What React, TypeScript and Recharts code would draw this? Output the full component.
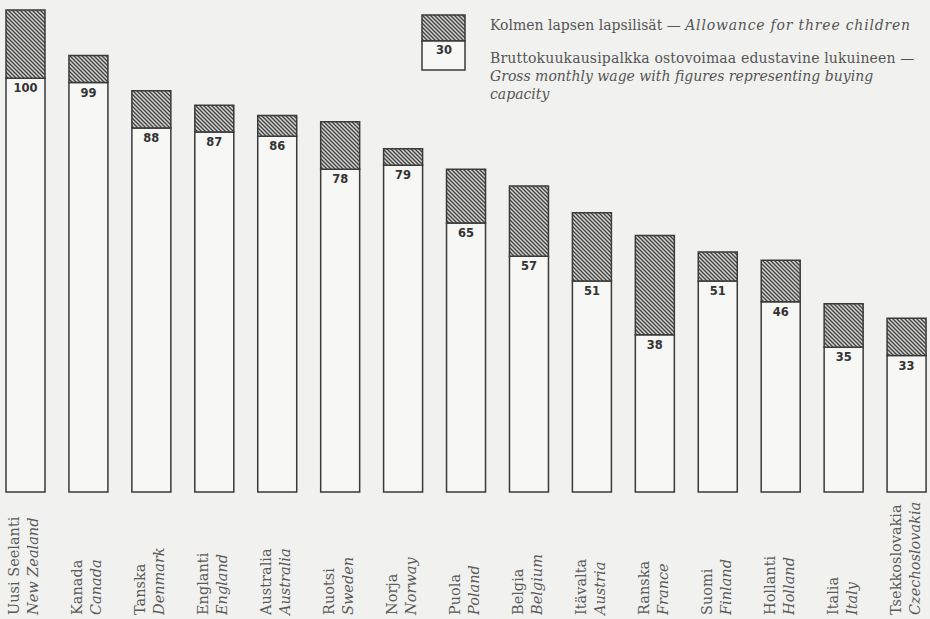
import React from "react";
import { BarChart, Bar, XAxis, YAxis, LabelList } from "recharts";

const fiNames = ["Uusi Seelanti", "Kanada", "Tanska", "Englanti", "Australia", "Ruotsi", "Norja", "Puola", "Belgia", "Itävalta", "Ranska", "Suomi", "Hollanti", "Italia", "Tsekkoslovakia"];
const enNames = ["New Zealand", "Canada", "Denmark", "England", "Australia", "Sweden", "Norway", "Poland", "Belgium", "Austria", "France", "Finland", "Holland", "Italy", "Czechoslovakia"];
const wage = [100, 99, 88, 87, 86, 78, 79, 65, 57, 51, 38, 51, 46, 35, 33];
const allowance = [16.5, 6.5, 9, 6.5, 5, 11.5, 4, 13, 17, 16.5, 24, 7, 10, 10.5, 9];
const legendSample = 30;

const data = fiNames.map((fi, i) => ({ fi, en: enNames[i], wage: wage[i], allowance: allowance[i] }));

const BG = "#f1f1ef";
const BAR = "#f7f7f6";
const INK = "#3a3a3a";
const TXT = "#555";
const SERIF = "'DejaVu Serif', 'Liberation Serif', serif";

const Tick = (props: any) => {
  const { x, payload } = props;
  const i = fiNames.indexOf(payload.value);
  return (
    <g>
      <text transform={`translate(${x - 6},615) rotate(-90)`} fontFamily={SERIF} fontSize={14.5} fill="#5a5a5a" textAnchor="start">
        {fiNames[i]}
      </text>
      <text transform={`translate(${x + 13},615) rotate(-90)`} fontFamily={SERIF} fontStyle="italic" fontSize={14.5} fill="#5a5a5a" textAnchor="start">
        {enNames[i]}
      </text>
    </g>
  );
};

const LegendBox = () => (
  <div style={{ position: "absolute", left: 421, top: 14, width: 500, height: 100, fontFamily: SERIF, color: TXT }}>
    <svg width={46} height={58} style={{ position: "absolute", left: 0, top: 0 }}>
      <defs>
        <pattern id="hatchL" patternUnits="userSpaceOnUse" width="4" height="4">
          <rect width="4" height="4" fill="#d4d4d2" />
          <path d="M0,0 L4,4 M-1,3 L1,5 M3,-1 L5,1" stroke="#404040" strokeWidth="1.35" />
        </pattern>
      </defs>
      <rect x={1} y={1} width={43} height={26} fill="url(#hatchL)" stroke={INK} strokeWidth={1.5} />
      <rect x={1} y={27} width={43} height={29} fill={BAR} stroke={INK} strokeWidth={1.5} />
      <text x={23} y={40} textAnchor="middle" fontFamily="'DejaVu Sans', sans-serif" fontWeight="bold" fontSize={11.5} fill="#333">
        {legendSample}
      </text>
    </svg>
    <div style={{ position: "absolute", left: 69, top: 3, fontSize: 14, whiteSpace: "nowrap", lineHeight: "16px" }}>
      Kolmen lapsen lapsilisät — <i style={{ letterSpacing: 0.8 }}>Allowance for three children</i>
    </div>
    <div style={{ position: "absolute", left: 69, top: 35, fontSize: 14, whiteSpace: "nowrap", lineHeight: "18px" }}>
      <span style={{ letterSpacing: 0.15 }}>Bruttokuukausipalkka ostovoimaa edustavine lukuineen —</span>
      <br />
      <i>Gross monthly wage with figures representing buying</i>
      <br />
      <i>capacity</i>
    </div>
  </div>
);

export default function App() {
  return (
    <div style={{ position: "fixed", left: 0, top: 0, width: 930, height: 619, overflow: "hidden", background: BG }}>
      <div style={{ position: "absolute", left: -6, top: 0 }}>
        <BarChart width={944} height={619} data={data} margin={{ top: 8, right: 0, left: 0, bottom: 0 }} barCategoryGap={0}>
          <defs>
            <pattern id="hatch" patternUnits="userSpaceOnUse" width="4" height="4">
              <rect width="4" height="4" fill="#d4d4d2" />
              <path d="M0,0 L4,4 M-1,3 L1,5 M3,-1 L5,1" stroke="#404040" strokeWidth="1.35" />
            </pattern>
          </defs>
          <XAxis dataKey="fi" axisLine={false} tickLine={false} interval={0} height={127} tick={<Tick />} />
          <YAxis hide domain={[0, 117]} />
          <Bar dataKey="wage" stackId="a" fill={BAR} stroke={INK} strokeWidth={1.5} barSize={39} isAnimationActive={false}>
            <LabelList dataKey="wage" position="insideTop" offset={6} fill="#333" fontFamily="'DejaVu Sans', sans-serif" fontWeight="bold" fontSize={11.5} />
          </Bar>
          <Bar dataKey="allowance" stackId="a" fill="url(#hatch)" stroke={INK} strokeWidth={1.5} barSize={39} isAnimationActive={false} />
        </BarChart>
      </div>
      <LegendBox />
    </div>
  );
}
